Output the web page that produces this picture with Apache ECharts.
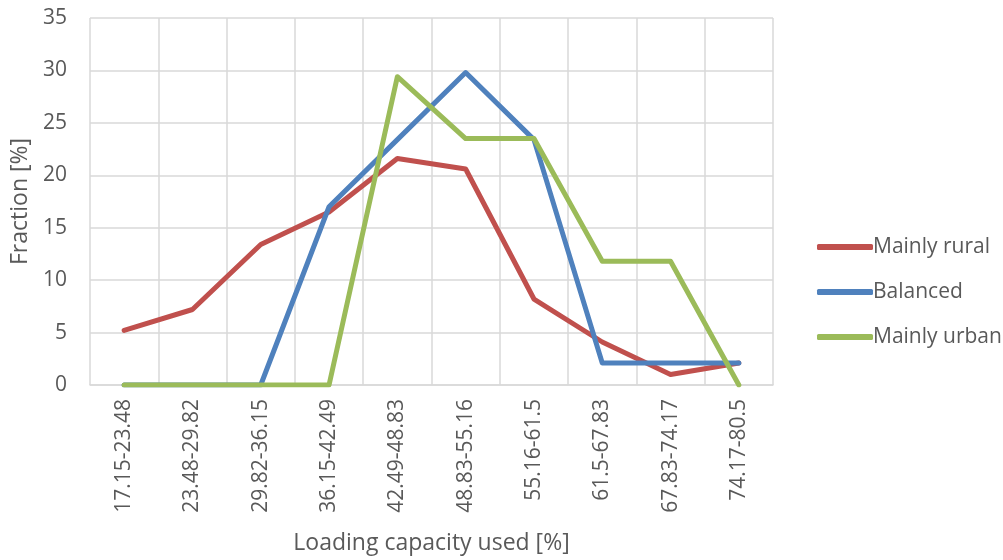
<!DOCTYPE html>
<html>
<head>
<meta charset="utf-8">
<script src="https://cdn.jsdelivr.net/npm/echarts@6/dist/echarts.min.js"></script>
<style>
  html, body { margin: 0; padding: 0; background: #ffffff; }
  #chart { width: 1003px; height: 560px; }
</style>
</head>
<body>
<div id="chart"></div>
<script>
// Loading capacity bins (x categories)
const categories = [
  '17.15-23.48', '23.48-29.82', '29.82-36.15', '36.15-42.49', '42.49-48.83',
  '48.83-55.16', '55.16-61.5', '61.5-67.83', '67.83-74.17', '74.17-80.5'
];

// Fraction of lines per bin [%]
const mainlyRural = [5.2, 7.2, 13.4, 16.5, 21.6, 20.6, 8.2, 4.1, 1.0, 2.1];
const balanced    = [0, 0, 0, 17.0, 23.4, 29.8, 23.4, 2.1, 2.1, 2.1];
const mainlyUrban = [0, 0, 0, 0, 29.4, 23.5, 23.5, 11.8, 11.8, 0];

const seriesNames = ['Mainly rural', 'Balanced', 'Mainly urban'];
const seriesColors = ['#C0504D', '#4F81BD', '#9BBB59'];
const seriesValues = [mainlyRural, balanced, mainlyUrban];

const font = '"Open Sans", sans-serif';
const textColor = '#595959';
const gridColor = '#d9d9d9';

const chart = echarts.init(document.getElementById('chart'), null, { renderer: 'canvas' });

chart.setOption({
  animation: false,
  backgroundColor: '#ffffff',
  grid: { left: 90, right: 230, top: 18, bottom: 174, containLabel: false },
  legend: {
    orient: 'vertical',
    left: 812,
    top: 230,
    itemWidth: 56,
    itemHeight: 6,
    itemGap: 21,
    icon: 'roundRect',
    data: seriesNames,
    textStyle: { fontFamily: font, fontSize: 21, color: textColor, lineHeight: 24, padding: [0, 0, 0, -5] }
  },
  xAxis: {
    type: 'category',
    data: categories,
    boundaryGap: true,
    name: 'Loading capacity used [%]',
    nameLocation: 'middle',
    nameGap: 147,
    nameTextStyle: { fontFamily: font, fontSize: 23, color: textColor },
    axisLine: { show: true, lineStyle: { color: gridColor, width: 1.5 } },
    axisTick: { show: false },
    axisLabel: {
      rotate: 90, margin: 14, interval: 0,
      fontFamily: font, fontSize: 21, color: textColor
    },
    splitLine: { show: true, interval: 0, lineStyle: { color: gridColor, width: 1.5 } }
  },
  yAxis: {
    type: 'value',
    min: 0, max: 35, interval: 5,
    name: 'Fraction [%]',
    nameLocation: 'middle',
    nameGap: 56,
    nameTextStyle: { fontFamily: font, fontSize: 23, color: textColor },
    axisLine: { show: false },
    axisTick: { show: false },
    axisLabel: { margin: 23, fontFamily: font, fontSize: 21, color: textColor },
    splitLine: { show: true, lineStyle: { color: gridColor, width: 1.5 } }
  },
  series: seriesNames.map((name, i) => ({
    name: name,
    type: 'line',
    data: seriesValues[i],
    showSymbol: false,
    symbol: 'none',
    color: seriesColors[i],
    lineStyle: { width: 5, color: seriesColors[i], join: 'round', cap: 'round' }
  }))
});
</script>
</body>
</html>
